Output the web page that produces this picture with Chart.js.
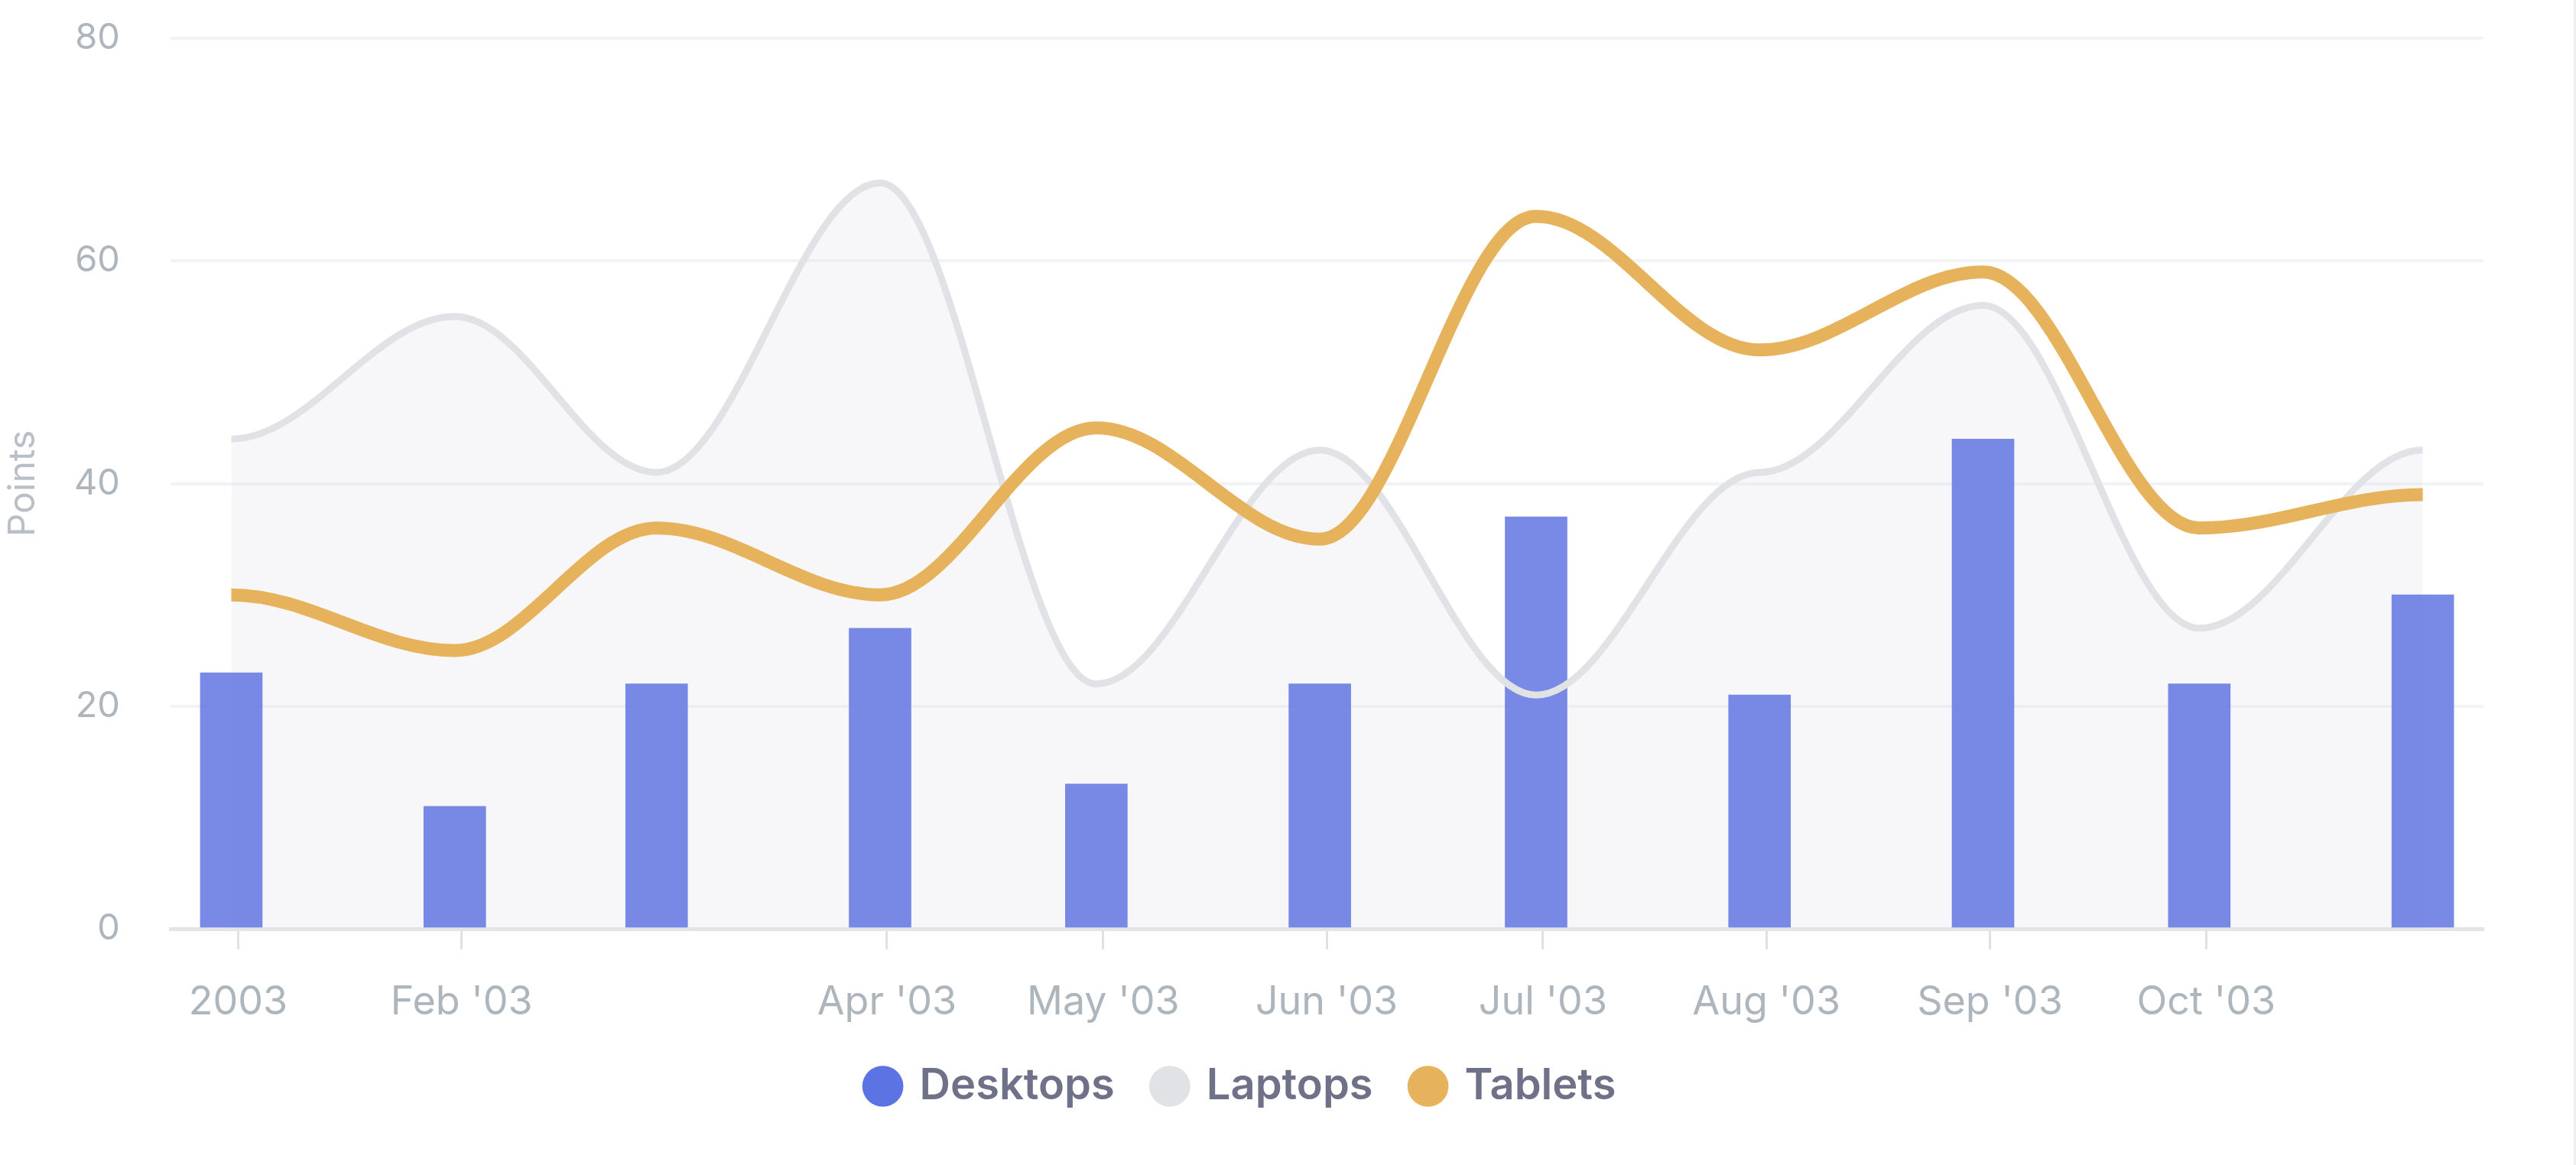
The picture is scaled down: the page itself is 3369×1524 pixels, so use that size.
<!DOCTYPE html>
<html>
<head>
<meta charset="utf-8">
<script src="https://cdn.jsdelivr.net/npm/chart.js@4.4.1/dist/chart.umd.min.js"></script>
<style>
html,body{margin:0;padding:0;background:#fff;}
#wrap{position:relative;width:3369px;height:1524px;overflow:hidden;}
#edge{position:absolute;right:0;top:0;width:3px;height:1524px;background:#efeff1;}
</style>
</head>
<body>
<div id="wrap"><canvas id="c" width="3369" height="1524"></canvas><div id="edge"></div></div>
<script>
// ---- data ----
const dates = ['2003-01-01','2003-02-01','2003-03-01','2003-04-01','2003-05-01','2003-06-01','2003-07-01','2003-08-01','2003-09-01','2003-10-01','2003-11-01'];
const desktops = [23, 11, 22, 27, 13, 22, 37, 21, 44, 22, 30];
const laptops  = [44, 55, 41, 67, 22, 43, 21, 41, 56, 27, 43];
const tablets  = [30, 25, 36, 30, 45, 35, 64, 52, 59, 36, 39];
const tickDates  = ['2003-01-01','2003-02-01','2003-04-01','2003-05-01','2003-06-01','2003-07-01','2003-08-01','2003-09-01','2003-10-01'];
const tickLabels = ['2003', "Feb '03", "Apr '03", "May '03", "Jun '03", "Jul '03", "Aug '03", "Sep '03", "Oct '03"];
const yTicks = [0, 20, 40, 60, 80];
const seriesNames = ['Desktops', 'Laptops', 'Tablets'];
const yTitle = 'Points';

// ---- style ----
const legendColors = ['#5B73E3', '#E1E2E6', '#E6B35C'];
const X_MIN = -8.43, X_MAX = 312.42, TICK_SHIFT = 0.95;
const SMOOTH = 0.35;      // horizontal control-point reach of the smooth curve
const LEGEND_LIFT = 39;

const dayOf = s => (Date.parse(s + 'T00:00:00Z') - Date.parse(dates[0] + 'T00:00:00Z')) / 86400000;
const pts = arr => dates.map((d, i) => ({x: dayOf(d), y: arr[i]}));

// smooth curve with flat tangents at every point
const smoothPlugin = {
  id: 'flatSmooth',
  afterUpdate(chart) {
    chart.data.datasets.forEach((ds, di) => {
      const meta = chart.getDatasetMeta(di);
      if (meta.type !== 'line' || !meta.dataset) return;
      meta.dataset.updateControlPoints(chart.chartArea, 'x');
      const p = meta.data;
      for (let i = 0; i < p.length; i++) {
        const prev = p[i - 1], next = p[i + 1];
        if (prev) { const dx = p[i].x - prev.x; p[i].cp1x = p[i].x - dx * SMOOTH; p[i].cp1y = p[i].y; }
        else { p[i].cp1x = p[i].x; p[i].cp1y = p[i].y; }
        if (next) { const dx = next.x - p[i].x; p[i].cp2x = p[i].x + dx * SMOOTH; p[i].cp2y = p[i].y; }
        else { p[i].cp2x = p[i].x; p[i].cp2y = p[i].y; }
      }
    });
  }
};
const legendLift = {
  id: 'legendLift',
  afterLayout(chart) { const l = chart.legend; if (l) { l.top -= LEGEND_LIFT; l.bottom -= LEGEND_LIFT; } }
};

new Chart(document.getElementById('c'), {
  type: 'line',
  data: {
    datasets: [
      {type: 'bar', label: seriesNames[0], data: pts(desktops), backgroundColor: 'rgba(98,116,226,0.85)', borderWidth: 0, barThickness: 81, order: 3},
      {type: 'line', label: seriesNames[1], data: pts(laptops), borderColor: '#E1E2E6', borderWidth: 9, backgroundColor: 'rgba(225,226,232,0.28)', fill: 'origin', pointRadius: 0, tension: 0.4, order: 2},
      {type: 'line', label: seriesNames[2], data: pts(tablets), borderColor: '#E6B35C', borderWidth: 17, fill: false, pointRadius: 0, tension: 0.4, borderJoinStyle: 'round', order: 1}
    ]
  },
  plugins: [smoothPlugin, legendLift],
  options: {
    responsive: false,
    animation: false,
    layout: {padding: {top: 50, right: 121, bottom: 26, left: 0}},
    plugins: {
      filler: {drawTime: 'beforeDatasetsDraw'},
      tooltip: {enabled: false},
      legend: {
        position: 'bottom',
        labels: {
          usePointStyle: true, pointStyle: 'circle', boxWidth: 40, boxHeight: 38, padding: 52,
          color: '#6f7189', font: {family: 'Inter', size: 56, weight: '600'},
          sort: (a, b) => a.datasetIndex - b.datasetIndex,
          generateLabels: chart => {
            const items = Chart.defaults.plugins.legend.labels.generateLabels(chart);
            items.forEach(it => { it.fillStyle = legendColors[it.datasetIndex]; it.strokeStyle = legendColors[it.datasetIndex]; it.lineWidth = 0; it.pointStyle = 'circle'; });
            return items;
          }
        }
      }
    },
    scales: {
      x: {
        type: 'linear', min: X_MIN, max: X_MAX, offset: false,
        afterBuildTicks: s => { s.ticks = tickDates.map(d => ({value: dayOf(d) + TICK_SHIFT})); },
        ticks: {autoSkip: false, maxRotation: 0, padding: 43, color: '#adb5bd', font: {family: 'Inter', size: 52, lineHeight: 1}, callback: (v, i) => tickLabels[i]},
        grid: {offset: false, drawOnChartArea: false, drawTicks: true, tickLength: 27, tickWidth: 3, tickColor: '#e1e1e3'},
        border: {display: true, color: '#e4e4e6', width: 5}
      },
      y: {
        min: 0, max: 80,
        afterBuildTicks: s => { s.ticks = yTicks.map(v => ({value: v})); },
        afterFit: s => { s.width = 223; },
        ticks: {padding: 0, color: '#adb5bd', font: {family: 'Inter', size: 47}},
        grid: {color: '#f2f3f6', lineWidth: 4, drawTicks: true, tickLength: 66, tickColor: 'rgba(0,0,0,0)'},
        border: {display: false},
        title: {display: true, text: yTitle, color: '#b9bfc7', font: {family: 'Inter', size: 48}, padding: {top: 2, bottom: 0}}
      }
    }
  }
});
</script>
</body>
</html>
